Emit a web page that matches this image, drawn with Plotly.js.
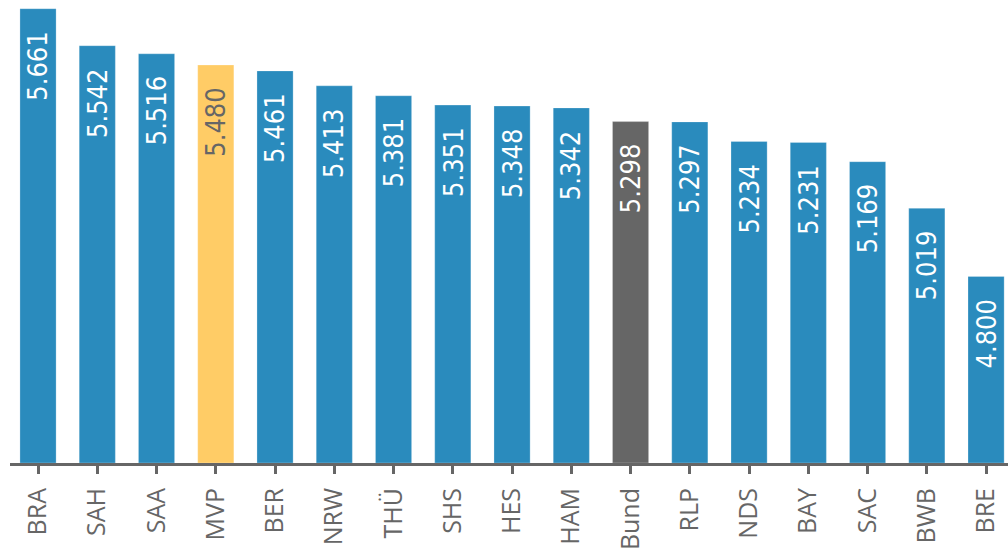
<!DOCTYPE html>
<html><head><meta charset="utf-8">
<script src="https://cdn.plot.ly/plotly-3.0.1.min.js"></script>
<style>body{margin:0;background:#fff}#c{width:1008px;height:555px}</style>
</head><body><div id="c"></div>
<script>
const categories = ["BRA","SAH","SAA","MVP","BER","NRW","THÜ","SHS","HES","HAM","Bund","RLP","NDS","BAY","SAC","BWB","BRE"];
const values = [5.661,5.542,5.516,5.480,5.461,5.413,5.381,5.351,5.348,5.342,5.298,5.297,5.234,5.231,5.169,5.019,4.800];
const labels = ["5.661","5.542","5.516","5.480","5.461","5.413","5.381","5.351","5.348","5.342","5.298","5.297","5.234","5.231","5.169","5.019","4.800"];

const colors = categories.map(c => c === "MVP" ? "#ffcc66" : (c === "Bund" ? "#666666" : "#2a8bbd"));
const textColors = categories.map(c => c === "MVP" ? "#666666" : "#ffffff");
const valFont = "DejaVu Sans Condensed, DejaVu Sans, sans-serif";

const annotations = categories.map((c, i) => ({
  x: i, y: values[i], xref: "x", yref: "y",
  text: labels[i], showarrow: false, textangle: -90,
  xanchor: "center", yanchor: "top", yshift: -20,
  font: {family: valFont, size: 27, color: textColors[i]}
}));

Plotly.newPlot("c", [{
  type: "bar",
  x: categories.map((c,i)=>i),
  base: 4.2,
  y: values.map(v => v - 4.2),
  marker: {color: colors, line: {color: "rgba(255,255,255,0.25)", width: 1}},
  hoverinfo: "none"
}], {
  width: 1008, height: 555,
  margin: {l: 10, r: 0, t: 0, b: 92},
  paper_bgcolor: "#fff", plot_bgcolor: "#fff",
  bargap: 0.39,
  showlegend: false,
  annotations: annotations,
  xaxis: {
    range: [-0.473, 16.37],
    tickmode: "array", tickvals: categories.map((c,i)=>i), ticktext: categories,
    tickangle: -90,
    ticks: "outside", ticklen: 8, tickwidth: 3, tickcolor: "#666",
    ticklabelstandoff: 4,
    showline: true, linecolor: "#666", linewidth: 3,
    showgrid: false, zeroline: false,
    tickfont: {family: "Open Sans, sans-serif", size: 25, color: "#666"}
  },
  yaxis: {range: [4.2, 5.689], visible: false, showgrid: false, zeroline: false}
}, {displayModeBar: false, staticPlot: true});
</script></body></html>
